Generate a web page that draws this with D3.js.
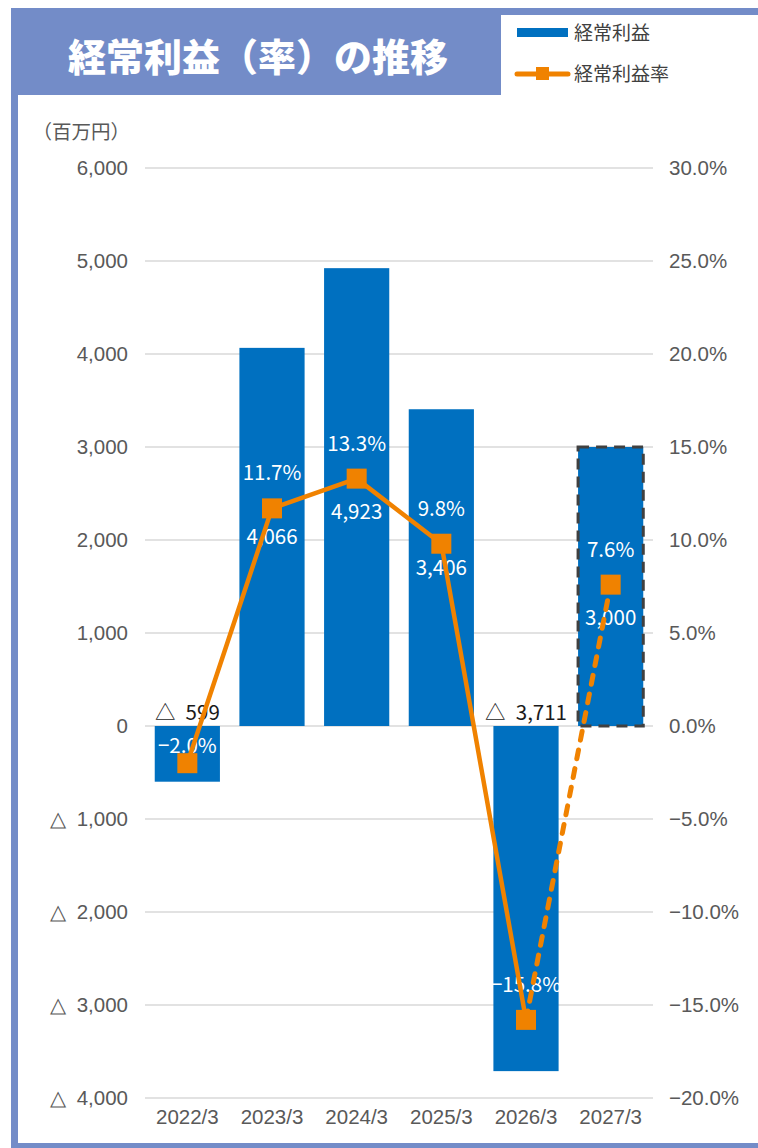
<!DOCTYPE html>
<html>
<head>
<meta charset="utf-8">
<script src="https://cdn.jsdelivr.net/npm/d3@7"></script>
<style>
  html, body { margin: 0; padding: 0; background: #fff; }
  svg { display: block; font-family: "Noto Sans CJK JP", "Noto Sans", sans-serif; }
</style>
</head>
<body>
<svg id="chart" width="758" height="1148"></svg>
<script>
// 経常利益（百万円）と経常利益率（%）
const categories = ["2022/3", "2023/3", "2024/3", "2025/3", "2026/3", "2027/3"];
const profit = [-599, 4066, 4923, 3406, -3711, 3000];
const margin = [-2.0, 11.7, 13.3, 9.8, -15.8, 7.6];
const forecast = [false, false, false, false, false, true];
const leftTicks = [6000, 5000, 4000, 3000, 2000, 1000, 0, -1000, -2000, -3000, -4000];
const rightTicks = [30, 25, 20, 15, 10, 5, 0, -5, -10, -15, -20];

const W = 758, H = 1148;
const frameColor = "#738cc8";
const barColor = "#0070c0";
const lineColor = "#f08200";
const gridColor = "#d9d9d9";
const tickColor = "#595959";
const fs = 20.5;

const svg = d3.select("#chart");

// 枠とタイトル帯
svg.append("rect").attr("x", 11).attr("y", 8).attr("width", 490).attr("height", 87).attr("fill", frameColor);
svg.append("rect").attr("x", 11).attr("y", 8).attr("width", W - 11).attr("height", 7).attr("fill", frameColor);
svg.append("rect").attr("x", 11).attr("y", 8).attr("width", 7).attr("height", H - 8).attr("fill", frameColor);
svg.append("rect").attr("x", 11).attr("y", H - 5).attr("width", W - 11).attr("height", 5).attr("fill", frameColor);

svg.append("text")
  .attr("x", 258).attr("y", 71)
  .attr("text-anchor", "middle")
  .attr("fill", "#fff")
  .attr("font-size", 38)
  .attr("font-weight", 900)
  .text("経常利益（率）の推移");

// 凡例
const legend = svg.append("g");
legend.append("rect").attr("x", 517).attr("y", 28).attr("width", 51).attr("height", 9).attr("fill", barColor);
legend.append("text").attr("x", 574).attr("y", 40).attr("font-size", 19).attr("fill", "#404040").text("経常利益");
legend.append("line").attr("x1", 517).attr("x2", 568).attr("y1", 74).attr("y2", 74)
  .attr("stroke", lineColor).attr("stroke-width", 5).attr("stroke-linecap", "round");
legend.append("rect").attr("x", 536).attr("y", 67).attr("width", 13).attr("height", 13).attr("fill", lineColor);
legend.append("text").attr("x", 574).attr("y", 81).attr("font-size", 19).attr("fill", "#404040").text("経常利益率");

// スケール
const plotLeft = 145, plotRight = 653;
const x = d3.scaleBand().domain(categories).range([plotLeft, plotRight]).paddingInner(0.23).paddingOuter(0.115);
const yL = d3.scaleLinear().domain([-4000, 6000]).range([1098, 168]);
const yR = d3.scaleLinear().domain([-20, 30]).range([1098, 168]);

// 負の値は「△」表記
const fmtL = v => v < 0 ? "△\u2002" + d3.format(",")(-v) : d3.format(",")(v);
const fmtR = v => (v < 0 ? "−" : "") + d3.format(".1f")(Math.abs(v)) + "%";

// 単位
svg.append("text").attr("x", 130).attr("y", 139).attr("text-anchor", "end")
  .attr("font-size", 19.5).attr("fill", tickColor).text("（百万円）");

// グリッド線
svg.append("g").selectAll("line").data(leftTicks).join("line")
  .attr("x1", plotLeft).attr("x2", plotRight)
  .attr("y1", d => yL(d)).attr("y2", d => yL(d))
  .attr("stroke", gridColor).attr("stroke-width", 1.5);

// 左軸
const axisL = svg.append("g").attr("transform", `translate(${plotLeft},0)`)
  .call(d3.axisLeft(yL).tickValues(leftTicks).tickFormat(fmtL).tickSize(0).tickPadding(17));
axisL.select(".domain").remove();
axisL.selectAll("text").attr("font-size", fs).attr("fill", tickColor).attr("font-family", null);

// 右軸
const axisR = svg.append("g").attr("transform", `translate(${plotRight},0)`)
  .call(d3.axisRight(yR).tickValues(rightTicks).tickFormat(fmtR).tickSize(0).tickPadding(16));
axisR.select(".domain").remove();
axisR.selectAll("text").attr("font-size", fs).attr("fill", tickColor).attr("font-family", null);

// 下軸
const axisB = svg.append("g").attr("transform", `translate(0,1098)`)
  .call(d3.axisBottom(x).tickSize(0).tickPadding(11));
axisB.select(".domain").remove();
axisB.selectAll("text").attr("font-size", fs).attr("fill", tickColor).attr("font-family", null);

// 棒（予想年度は破線枠）
const rows = categories.map((c, i) => ({ c, v: profit[i], m: margin[i], f: forecast[i] }));
svg.append("g").selectAll("rect").data(rows).join("rect")
  .attr("x", d => x(d.c)).attr("width", x.bandwidth())
  .attr("y", d => yL(Math.max(0, d.v)))
  .attr("height", d => Math.abs(yL(d.v) - yL(0)))
  .attr("fill", barColor)
  .attr("stroke", d => d.f ? "#404040" : "none")
  .attr("stroke-width", 3)
  .attr("stroke-dasharray", "11 7");

// 値ラベル
const labels = svg.append("g").attr("font-size", fs).attr("text-anchor", "middle");
rows.forEach(d => {
  const cx = x(d.c) + x.bandwidth() / 2;
  const my = yR(d.m);
  if (d.v < 0) {
    labels.append("text").attr("x", cx).attr("y", yL(0) - 6).attr("fill", "#1a1a1a").text(fmtL(d.v));
  } else {
    let ly = (yL(d.v) + yL(0)) / 2;
    if (Math.abs(ly - my) < 20) ly = my + 33;
    labels.append("text").attr("x", cx).attr("y", ly + 7).attr("fill", "#fff").text(fmtL(d.v));
  }
  let py = my - 35;
  if (d.v < 0 && py < yL(0) + 20) py = yL(0) + 20;
  labels.append("text").attr("x", cx).attr("y", py + 7).attr("fill", "#fff").text(fmtR(d.m));
});

// 利益率の折れ線（実績は実線、予想は破線）
const pt = d => [x(d.c) + x.bandwidth() / 2, yR(d.m)];
const line = d3.line();
const lastActual = forecast.indexOf(true) - 1;
svg.append("path").attr("d", line(rows.slice(0, lastActual + 1).map(pt)))
  .attr("fill", "none").attr("stroke", lineColor).attr("stroke-width", 4.5)
  .attr("stroke-linejoin", "round");
svg.append("path").attr("d", line(rows.slice(lastActual).map(pt)))
  .attr("fill", "none").attr("stroke", lineColor).attr("stroke-width", 5)
  .attr("stroke-dasharray", "9 10").attr("stroke-linecap", "round");

const ms = 20;
svg.append("g").selectAll("rect").data(rows).join("rect")
  .attr("x", d => pt(d)[0] - ms / 2).attr("y", d => pt(d)[1] - ms / 2)
  .attr("width", ms).attr("height", ms).attr("fill", lineColor);
</script>
</body>
</html>
